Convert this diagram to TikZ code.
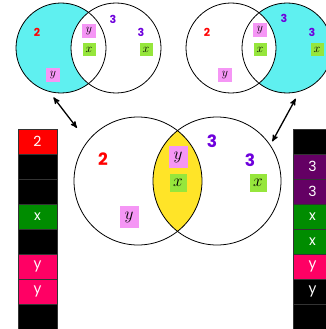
\documentclass[tikz,border=0pt]{standalone}
\usepackage{fontspec}
\setsansfont{Poppins}
\usepackage{tikz}
\usetikzlibrary{arrows,backgrounds,positioning}
\definecolor{venn-cyan}{RGB}{95,240,240}
\definecolor{venn-yellow}{RGB}{255,228,40}
\definecolor{venn-pink}{RGB}{245,150,245}
\definecolor{venn-green}{RGB}{150,230,60}
\definecolor{venn-purple}{RGB}{110,0,220}
\definecolor{cell-green}{RGB}{0,140,0}
\definecolor{cell-pink}{RGB}{255,0,100}
\definecolor{cell-purple}{RGB}{100,0,100}
\newcommand{\smallmath}{\fontsize{12}{12}\selectfont}
\newcommand{\bigmath}{\fontsize{16}{16}\selectfont}

\begin{document}
\begin{tikzpicture}
      [x=1pt, y=-1pt, node distance=25pt, on grid,
       ring/.style={circle, draw=black, thick, inner sep=0pt},
       small ring/.style={ring, minimum size=90pt},
       big ring/.style={ring, minimum size=128pt},
       ybox/.style={fill=venn-pink, inner sep=0pt},
       xbox/.style={fill=venn-green, inner sep=0pt},
       two/.style={text=red, font=\sffamily\bfseries\fontsize{11}{11}\selectfont},
       three/.style={text=venn-purple, font=\sffamily\bfseries\fontsize{11}{11}\selectfont},
       cell/.style={draw=gray!40!black, fill=black, text=white,
         minimum width=39pt, minimum height=25pt, inner sep=0pt,
         font=\sffamily\fontsize{14}{14}\selectfont},
       post/.style={<->, >=stealth', line width=1.3pt}]
      \useasboundingbox (0,0) rectangle (325,329);

      % top left
      \node [small ring] (TL1) at (61,48) {};
      \node [small ring] (TL2) at (116,48) {};
      \node [two] (TLtwo) at (37,32) {2};
      \node [three] (TLthree) at (113,19) {3};
      \node [three] (TLthreeb) at (141,32) {3};
      \node [ybox, minimum width=14pt, minimum height=14pt] (TLy) at (89,31) {\smallmath$y$};
      \node [xbox, minimum width=13pt, minimum height=13pt] (TLx) at (89,50) {\smallmath$x$};
      \node [xbox, minimum width=13pt, minimum height=13pt] (TLxb) at (146,50) {\smallmath$x$};
      \node [ybox, minimum width=14pt, minimum height=14pt] (TLyb) at (53,75) {\smallmath$y$};

      % top right
      \node [small ring] (TR1) at (231,48) {};
      \node [small ring] (TR2) at (287,48) {};
      \node [two] (TRtwo) at (207,32) {2};
      \node [three] (TRthree) at (284,18) {3};
      \node [three] (TRthreeb) at (312,32) {3};
      \node [ybox, minimum width=14pt, minimum height=14pt] (TRy) at (260,30) {\smallmath$y$};
      \node [xbox, minimum width=13pt, minimum height=13pt] (TRx) at (260,50) {\smallmath$x$};
      \node [xbox, minimum width=13pt, minimum height=13pt] (TRxb) at (317,50) {\smallmath$x$};
      \node [ybox, minimum width=14pt, minimum height=14pt] (TRyb) at (225,75) {\smallmath$y$};

      % middle
      \node [big ring] (M1) at (138,181) {};
      \node [big ring] (M2) at (217,181) {};
      \node [two, font=\sffamily\bfseries\fontsize{17}{17}\selectfont] (Mtwo) at (103,159) {2};
      \node [three, font=\sffamily\bfseries\fontsize{17}{17}\selectfont] (Mthree) at (212,141) {3};
      \node [three, font=\sffamily\bfseries\fontsize{17}{17}\selectfont] (Mthreeb) at (250,160) {3};
      \node [ybox, minimum width=19pt, minimum height=22pt] (My) at (178,157) {\bigmath$y$};
      \node [xbox, minimum width=17pt, minimum height=18pt] (Mx) at (178,183) {\bigmath$x$};
      \node [xbox, minimum width=17pt, minimum height=18pt] (Mxb) at (258,183) {\bigmath$x$};
      \node [ybox, minimum width=19pt, minimum height=22pt] (Myb) at (129,217) {\bigmath$y$};

      \begin{scope}[on background layer]
        \fill [venn-cyan] (TL1.center) circle (45);
        \fill [white] (TL2.center) circle (45);
        \fill [venn-cyan] (TR2.center) circle (45);
        \fill [white] (TR1.center) circle (45);
        \begin{scope}
          \clip (M1.center) circle (64);
          \fill [venn-yellow] (M2.center) circle (64);
        \end{scope}
      \end{scope}

      % columns
      \node [cell, fill=red] (L1) at (37.5,141.5) {2};
      \node [cell, below=of L1] (L2) {};
      \node [cell, below=of L2] (L3) {};
      \node [cell, fill=cell-green, below=of L3] (L4) {x};
      \node [cell, below=of L4] (L5) {};
      \node [cell, fill=cell-pink, below=of L5] (L6) {y};
      \node [cell, fill=cell-pink, below=of L6] (L7) {y};
      \node [cell, below=of L7] (L8) {};

      \node [cell] (R1) at (312.5,141.5) {};
      \node [cell, fill=cell-purple, below=of R1] (R2) {3};
      \node [cell, fill=cell-purple, below=of R2] (R3) {3};
      \node [cell, fill=cell-green, below=of R3] (R4) {x};
      \node [cell, fill=cell-green, below=of R4] (R5) {x};
      \node [cell, fill=cell-pink, below=of R5] (R6) {y};
      \node [cell, below=of R6] (R7) {y};
      \node [cell, below=of R7] (R8) {};

      \draw [post, shorten <=7pt, shorten >=17pt] (TL1.-105.6) -- (M1.142);
      \draw [post, shorten <=8pt, shorten >=4pt] (TR2.-74.6) -- (M2.34.9);
    \end{tikzpicture}
\end{document}
